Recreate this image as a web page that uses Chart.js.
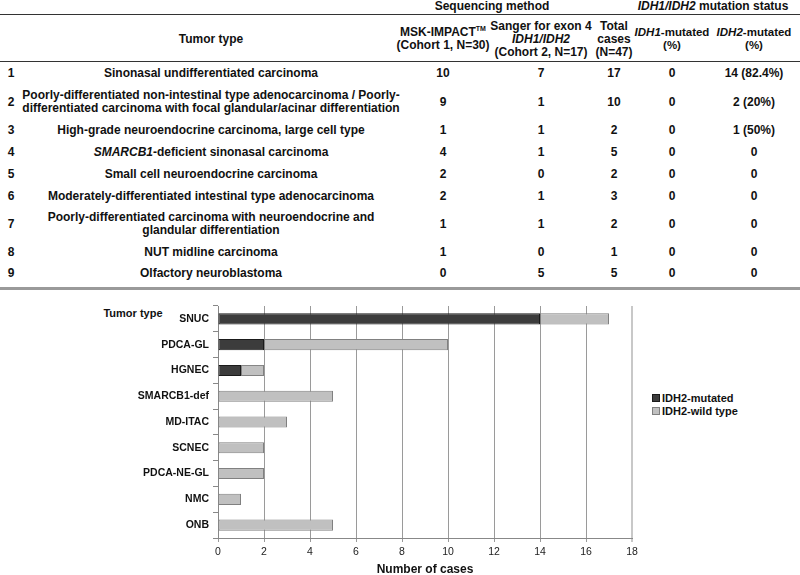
<!DOCTYPE html>
<html>
<head>
<meta charset="utf-8">
<script src="https://cdn.jsdelivr.net/npm/chart.js@4"></script>
<style>
body { margin: 0; width: 800px; height: 575px; overflow: hidden; background: #fff; position: relative;
       font-family: "Liberation Sans", Arial, sans-serif; color: #111; }
.t { position: absolute; transform: translate(-50%, -50%); white-space: nowrap; text-align: center;
     font-weight: bold; font-size: 12px; line-height: 13px; }
.rule { position: absolute; left: 0; width: 800px; }
#chartBox { position: absolute; left: 0; top: 290px; width: 800px; height: 290px; }
.leg { position: absolute; left: 652px; font-weight: bold; font-size: 11px; line-height: 12px; white-space: nowrap; }
.leg i { display: inline-block; width: 6px; height: 6px; margin-right: 2px; vertical-align: 0; }
</style>
</head>
<body>
<div class="rule" style="top:14px;border-top:1px solid #333"></div>
<div class="rule" style="top:61px;border-top:1px solid #333"></div>
<div class="rule" style="top:287px;border-top:3px solid #9a9a9a"></div>
<div id="table"></div>
<div class="t" style="left:133px;top:313px;font-size:11px">Tumor type</div>
<div class="leg" style="top:392px"><i style="background:#3c3c3c;border:1px solid #1a1a1a"></i>IDH2-mutated</div>
<div class="leg" style="top:405px"><i style="background:#c0c0c0;border:1px solid #808080"></i>IDH2-wild type</div>
<div id="chartBox"><canvas id="bars" width="800" height="290"></canvas></div>
<script>
// Table data
const rowNums = [1, 2, 3, 4, 5, 6, 7, 8, 9];
const tumorTypes = [
    'Sinonasal undifferentiated carcinoma',
    'Poorly-differentiated non-intestinal type adenocarcinoma / Poorly-<br>differentiated carcinoma with focal glandular/acinar differentiation',
    'High-grade neuroendocrine carcinoma, large cell type',
    '<i>SMARCB1</i>-deficient sinonasal carcinoma',
    'Small cell neuroendocrine carcinoma',
    'Moderately-differentiated intestinal type adenocarcinoma',
    'Poorly-differentiated carcinoma with neuroendocrine and<br>glandular differentiation',
    'NUT midline carcinoma',
    'Olfactory neuroblastoma'
];
const mskCounts = [10, 9, 1, 4, 2, 2, 1, 1, 0];
const sangerCounts = [7, 1, 1, 1, 0, 1, 1, 0, 5];
const totalCases = [17, 10, 2, 5, 2, 3, 2, 1, 5];
const idh1Mutated = ['0', '0', '0', '0', '0', '0', '0', '0', '0'];
const idh2MutatedPct = ['14 (82.4%)', '2 (20%)', '1 (50%)', '0', '0', '0', '0', '0', '0'];

// Chart data
const abbrevs = ['SNUC', 'PDCA-GL', 'HGNEC', 'SMARCB1-def', 'MD-ITAC', 'SCNEC', 'PDCA-NE-GL', 'NMC', 'ONB'];
const idh2Mut = [14, 2, 1, 0, 0, 0, 0, 0, 0];
const idh2Wt = [3, 8, 1, 5, 3, 2, 2, 1, 5];

// layout of the table
const colX = { num: 11, type: 211, msk: 443, sanger: 541, total: 614, idh1: 672, idh2: 754 };
const rowY = [73, 102, 130, 152, 174, 196, 224, 252, 273];

const tbl = document.getElementById('table');
function put(html, x, y, size) {
    const d = document.createElement('div');
    d.className = 't';
    d.style.left = x + 'px';
    d.style.top = y + 'px';
    if (size) d.style.fontSize = size + 'px';
    d.innerHTML = html;
    tbl.appendChild(d);
}

// headers
put('Sequencing method', 492, 6);
put('<i>IDH1/IDH2</i> mutation status', 713, 6);
put('Tumor type', colX.type, 39);
put('MSK-IMPACT<sup style="font-size:7px;line-height:0">TM</sup><br>(Cohort 1, N=30)', colX.msk, 39);
put('Sanger for exon 4<br><i>IDH1/IDH2</i><br>(Cohort 2, N=17)', colX.sanger, 39);
put('Total<br>cases<br>(N=47)', colX.total, 39);
put('<i>IDH1</i>-mutated<br>(%)', colX.idh1, 39, 11.5);
put('<i>IDH2</i>-mutated<br>(%)', colX.idh2, 39, 11.5);

rowNums.forEach((n, i) => {
    const y = rowY[i];
    put(n, colX.num, y);
    put(tumorTypes[i], colX.type, y);
    put(mskCounts[i], colX.msk, y);
    put(sangerCounts[i], colX.sanger, y);
    put(totalCases[i], colX.total, y);
    put(idh1Mutated[i], colX.idh1, y);
    put(idh2MutatedPct[i], colX.idh2, y);
});

// Bar chart
const ctx = document.getElementById('bars').getContext('2d');
new Chart(ctx, {
    type: 'bar',
    data: {
        labels: abbrevs,
        datasets: [{
            label: 'IDH2-mutated',
            data: idh2Mut.map(v => v || null),
            backgroundColor: '#3c3c3c',
            borderColor: '#1a1a1a',
            borderWidth: 1,
            borderSkipped: false
        }, {
            label: 'IDH2-wild type',
            data: idh2Wt.map(v => v || null),
            backgroundColor: '#c0c0c0',
            borderColor: '#808080',
            borderWidth: 1,
            borderSkipped: false
        }]
    },
    options: {
        indexAxis: 'y',
        responsive: false,
        animation: false,
        devicePixelRatio: 1,
        layout: { padding: { top: 16, right: 168, left: 0, bottom: 0 } },
        categoryPercentage: 1,
        barPercentage: 0.43,
        plugins: { legend: { display: false }, tooltip: { enabled: false } },
        scales: {
            x: {
                stacked: true,
                min: 0,
                max: 18,
                afterFit: s => { s.height = 42; },
                ticks: { stepSize: 2, padding: 4, color: '#222',
                         font: { family: '"Liberation Sans", Arial, sans-serif', size: 10.5 } },
                grid: {
                    color: c => (c.tick && c.tick.value === 18) ? '#c8c8c8' : '#9a9a9a',
                    lineWidth: c => (c.tick && c.tick.value === 18) ? 2 : 1,
                    tickLength: 4
                },
                border: { color: '#888', width: 1 },
                title: {
                    display: true,
                    text: 'Number of cases',
                    color: '#111',
                    padding: { top: 0, bottom: 3 },
                    font: { family: '"Liberation Sans", Arial, sans-serif', size: 12, weight: 'bold' }
                }
            },
            y: {
                stacked: true,
                afterFit: s => { s.width = 218; },
                ticks: { padding: 4, color: '#111',
                         font: { family: '"Liberation Sans", Arial, sans-serif', size: 10.5, weight: 'bold' } },
                grid: { offset: true, drawOnChartArea: false, tickLength: 5, color: '#888' },
                border: { color: '#888', width: 1 }
            }
        }
    }
});
</script>
</body>
</html>
